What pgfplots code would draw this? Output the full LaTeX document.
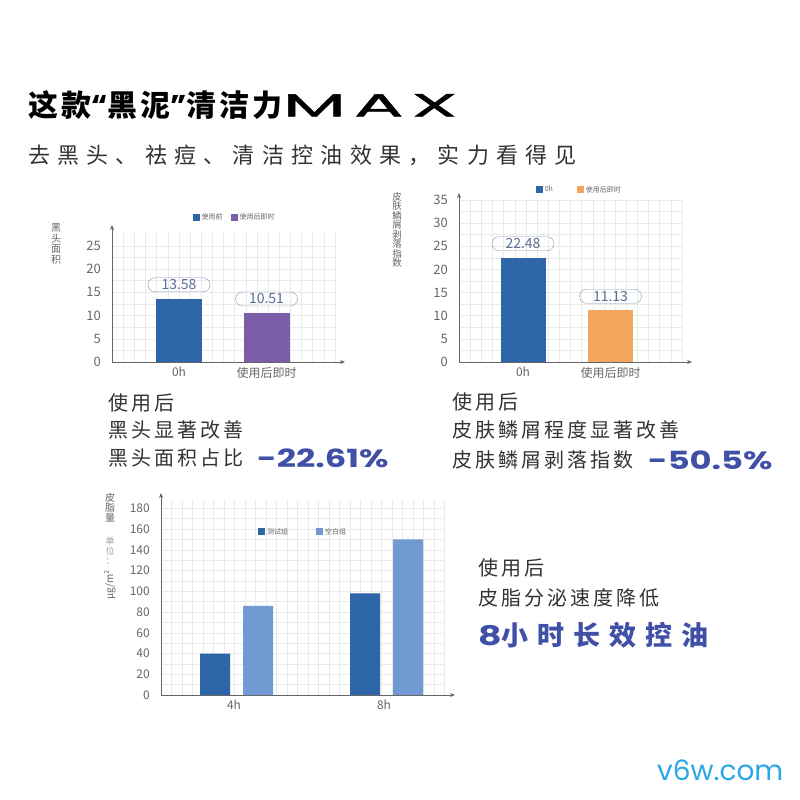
\documentclass[border=0pt]{standalone}
\usepackage{fontspec}
\setmainfont{Noto Sans CJK SC}
\newfontfamily\pop{Poppins}
\newfontfamily\popwide{Poppins}[FakeStretch=2.3, FakeBold=1.6, LetterSpace=25]
\newfontfamily\pophl{Poppins}[FakeStretch=1.35]
\usepackage{pgfplots}
\pgfplotsset{compat=1.18}
\usetikzlibrary{arrows.meta}
\definecolor{barblue}{HTML}{2E64A8}
\definecolor{barpurple}{HTML}{7B5EA7}
\definecolor{barorange}{HTML}{F2A65E}
\definecolor{lightblue}{HTML}{7199D2}
\definecolor{hl}{HTML}{3F50A6}
\definecolor{txt}{HTML}{333333}
\definecolor{axisgray}{HTML}{666666}
\definecolor{gridc}{HTML}{EAEAEA}
\definecolor{boxc}{HTML}{8496B8}
\definecolor{boxtext}{HTML}{5B6E94}
\definecolor{wm}{HTML}{2AA7EA}
\pgfplotsset{
 chartstyle/.style={
  scale only axis, anchor=south west,
  axis x line*=bottom, axis y line*=left,
  axis line style={draw=axisgray, line width=0.8pt},
  x axis line style={-{Stealth[length=5pt,width=4pt]}, shorten >=-10pt},
  y axis line style={-{Stealth[length=5pt,width=4pt]}, shorten >=-7pt},
  major tick length=0pt, minor tick length=0pt,
  grid=both, xmajorgrids=false,
  major grid style={draw=gridc, line width=0.5pt},
  minor grid style={draw=gridc, line width=0.5pt},
  ymin=0, xmin=0,
  /pgf/number format/assume math mode=true,
  tick label style={text=axisgray, font=\fontsize{13}{13}\selectfont},
  yticklabel style={anchor=east, inner sep=0pt, xshift=-11pt},
  xticklabel style={anchor=north, inner sep=0pt, yshift=-5pt, font=\fontsize{12}{12}\selectfont},
  legend style={draw=none, fill=none, font=\fontsize{7}{8}\selectfont, text=axisgray, legend columns=2, anchor=center, inner sep=0pt},
  legend image code/.code={\fill[##1] (0pt,-3.5pt) rectangle (7pt,3.5pt);},
  legend cell align=left,
 },
 labelboxes/.style={
  nodes near coords,
  every node near coord/.append style={draw=boxc, rounded corners=7pt, minimum width=62pt, minimum height=14pt, inner sep=0pt, text=boxtext, font=\fontsize{14}{14}\selectfont, anchor=south, yshift=7pt},
 }
}
\begin{document}
\begin{tikzpicture}
\useasboundingbox (0pt,0pt) rectangle (800pt,800pt);
\fill[white] (0pt,0pt) rectangle (800pt,800pt);

% Title
\node[anchor=west, inner sep=0pt, text=black] at (28pt,695pt) {\fontsize{30}{30}\selectfont\bfseries\addfontfeature{LetterSpace=10}这款{\pop\addfontfeature{LetterSpace=25}“}黑泥{\pop\addfontfeature{LetterSpace=25}”}清洁力{\fontsize{32}{32}\selectfont\popwide\mdseries MAX}};
\node[anchor=west, inner sep=0pt, text=txt] at (28pt,645pt) {\fontsize{22}{22}\selectfont\addfontfeature{LetterSpace=33}去黑头、祛痘、清洁控油效果，实力看得见};

% Chart 1
\begin{axis}[chartstyle, labelboxes, at={(112pt,438pt)}, width=223pt, height=130pt,
  xmax=223, ymax=28, ytick={0,5,...,25}, minor y tick num=1,
  xtick={67,154.5}, xticklabels={0h,使用后即时}, minor xtick={0,11.15,...,223},
  legend style={at={(0.55,1.115)}, /tikz/every even column/.append style={column sep=6pt}}]
\addplot[ybar, bar width=46, bar shift=0pt, fill=barblue, draw=none] coordinates {(67,13.58)};
\addplot[ybar, bar width=46, bar shift=0pt, fill=barpurple, draw=none] coordinates {(154.5,10.51)};
\legend{使用前,使用后即时}
\end{axis}
\node[align=center, text=axisgray, font=\fontsize{10}{10.5}\selectfont, inner sep=0pt] at (56pt,556pt) {黑\\头\\面\\积};

% Chart 2
\begin{axis}[chartstyle, labelboxes, at={(459pt,438pt)}, width=223pt, height=162pt,
  xmax=223, ymax=35, ytick={0,5,...,35}, minor y tick num=1,
  xtick={64,151.5}, xticklabels={0h,使用后即时}, minor xtick={0,11.15,...,223},
  legend style={at={(0.54,1.062)}, /tikz/every even column/.append style={column sep=22pt}}]
\addplot[ybar, bar width=45, bar shift=0pt, fill=barblue, draw=none] coordinates {(64,22.48)};
\addplot[ybar, bar width=45, bar shift=0pt, fill=barorange, draw=none] coordinates {(151.5,11.13)};
\legend{0h,使用后即时}
\end{axis}
\node[align=center, text=axisgray, font=\fontsize{9.5}{9.5}\selectfont, inner sep=0pt] at (397pt,570pt) {皮\\肤\\鳞\\屑\\剥\\落\\指\\数};

% Chart 3
\begin{axis}[chartstyle, at={(161pt,105pt)}, width=284pt, height=195pt,
  xmax=284, ymax=188, ytick={0,20,...,180}, minor y tick num=1,
  tick label style={font=\fontsize{12}{12}\selectfont},
  xtick={73,223}, xticklabels={4h,8h}, minor xtick={0,10.5,...,284},
  legend style={at={(0.5,0.836)}, /tikz/every even column/.append style={column sep=26pt}}]
\addplot[ybar, bar width=30, bar shift=0pt, fill=barblue, draw=none] coordinates {(54,40) (204,98)};
\addplot[ybar, bar width=30, bar shift=0pt, fill=lightblue, draw=none] coordinates {(97,86) (247,150)};
\legend{测试组,空白组}
\end{axis}
\node[align=center, text=axisgray, font=\fontsize{10}{10}\selectfont, inner sep=0pt] at (110pt,292pt) {皮\\脂\\量};
\node[align=center, text=axisgray!60, font=\fontsize{9}{10}\selectfont, inner sep=0pt] at (110pt,249pt) {单\\位\\：};
\node[rotate=90, text=axisgray, font=\fontsize{10}{10}\selectfont, inner sep=0pt] at (110pt,215pt) {μg/m²};

% Text blocks
\begin{scope}[every node/.style={anchor=west, inner sep=0pt, text=txt, font=\fontsize{20}{20}\selectfont\addfontfeature{LetterSpace=15}}]
\node at (108pt,397pt) {使用后};
\node at (108pt,370pt) {黑头显著改善};
\node at (108pt,342pt) {黑头面积占比};
\node at (452pt,398pt) {使用后};
\node at (452pt,370pt) {皮肤鳞屑程度显著改善};
\node at (452pt,340pt) {皮肤鳞屑剥落指数};
\node at (478pt,232pt) {使用后};
\node at (478pt,202pt) {皮脂分泌速度降低};
\end{scope}
\node[anchor=west, inner sep=0pt, text=hl] at (257pt,342pt) {\fontsize{25}{25}\selectfont\pophl\bfseries -22.61\%};
\node[anchor=west, inner sep=0pt, text=hl] at (648pt,340pt) {\fontsize{25}{25}\selectfont\pophl\bfseries -50.5\%};
\node[anchor=west, inner sep=0pt, text=hl] at (478pt,165pt) {\fontsize{27}{27}\selectfont\bfseries\addfontfeature{LetterSpace=33}{\pophl 8}小时长效控油};
\node[anchor=west, inner sep=0pt, text=wm] at (657pt,30pt) {\fontsize{28}{28}\selectfont\pop v6w.com};
\end{tikzpicture}
\end{document}
